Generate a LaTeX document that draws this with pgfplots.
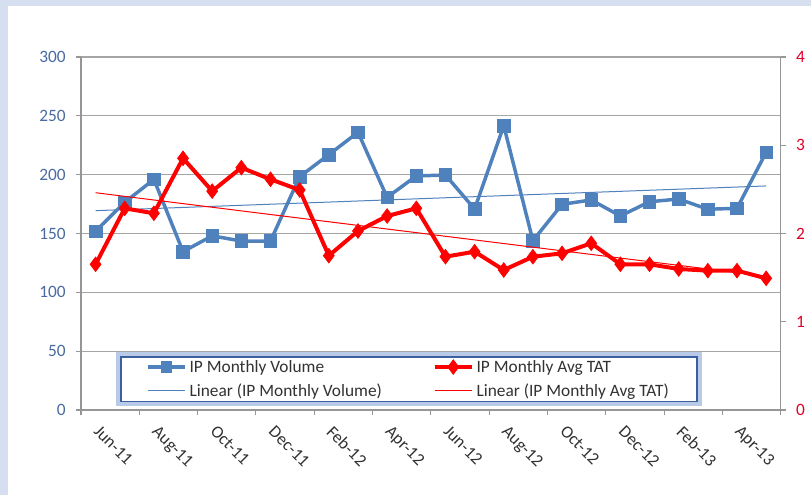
\documentclass[border=0pt]{standalone}
\usepackage{fontspec}
\setmainfont{Carlito}
\usepackage{pgfplots}
\pgfplotsset{compat=1.18}
\usepackage{pgfplotstable}
\usetikzlibrary{backgrounds}
\definecolor{xlblue}{RGB}{79,129,189}
\definecolor{xlred}{RGB}{255,0,0}
\definecolor{axgray}{RGB}{150,150,150}
\definecolor{gridgray}{RGB}{165,165,165}
\definecolor{lblue}{RGB}{74,107,160}
\definecolor{lred}{RGB}{225,0,40}
\definecolor{labgray}{RGB}{50,50,50}
\definecolor{bgblue}{RGB}{214,223,240}
\definecolor{legborder}{RGB}{60,95,160}
\definecolor{legglow}{RGB}{185,202,232}

\pgfplotstableread{
idx vol tat
0 152 1.651
1 176.5 2.285
2 196 2.229
3 134.6 2.852
4 148 2.48
5 143.6 2.746
6 143.6 2.614
7 198.3 2.493
8 217 1.749
9 236 2.028
10 180.7 2.198
11 198.9 2.285
12 199.7 1.737
13 170.8 1.794
14 241.6 1.586
15 143.9 1.737
16 174.8 1.775
17 178.5 1.889
18 164.9 1.651
19 177 1.651
20 179.3 1.598
21 170.6 1.579
22 171.4 1.579
23 219 1.492
}\data

\pgfplotstableread{
idx vol
0 169.4
23 190.4
}\voltrend

\pgfplotstableread{
idx tat
0 2.462
23 1.516
}\tattrend

\pgfplotsset{
  common/.style={
    scale only axis, width=524.8pt, height=264.75pt,
    xmin=-0.5, xmax=23.5,
    tick align=outside, major tick length=4pt,
    /pgf/number format/assume math mode=true,
    clip=false,
  }
}

\begin{document}
\begin{tikzpicture}[font=\fontsize{13}{15.5}\selectfont]
\begin{axis}[common, name=ax1,
  ymin=0, ymax=300, ytick={0,50,...,300},
  axis x line*=bottom, axis y line*=left,
  axis line style={draw=axgray, line width=0.8pt, -},
  ymajorgrids, grid style={draw=gridgray, line width=0.8pt},
  xtick={0,2,...,22},
  xticklabels={Jun-11,Aug-11,Oct-11,Dec-11,Feb-12,Apr-12,Jun-12,Aug-12,Oct-12,Dec-12,Feb-13,Apr-13},
  x tick label style={xshift=4pt, yshift=-2pt, rotate=-45, anchor=north west, text=labgray},
  xtick style={draw=none},
  extra x ticks={-0.5,1.5,...,23.5},
  extra x tick labels={},
  extra x tick style={grid=none, xtick style={draw=axgray, line width=0.8pt}, major tick length=4pt},
  ytick style={draw=axgray, line width=0.8pt},
  y tick label style={text=lblue, xshift=-4pt},
]
\addplot[draw=xlblue, line width=0.75pt] table[x=idx, y=vol] {\voltrend};
\addplot[draw=xlblue, line width=2.6pt, mark=square*, mark size=4.7pt,
  mark options={fill=xlblue, draw=xlblue, line width=0.5pt}] table[x=idx, y=vol] {\data};
\end{axis}
\begin{axis}[common,
  ymin=0, ymax=4, ytick={0,1,...,4},
  axis x line=none, axis y line*=right,
  axis line style={draw=axgray, line width=0.8pt, -},
  ytick style={draw=axgray, line width=0.8pt},
  y tick label style={text=lred, xshift=4pt},
  xtick=\empty,
  legend columns=2,
  legend cell align=left,
  legend image code/.code={\draw[mark repeat=2,mark phase=2] plot coordinates {(0pt,0pt)(14pt,0pt)(28pt,0pt)};},
  legend style={at={(0.0557,0.022)}, anchor=south west, name=leg,
    draw=legborder, line width=1.2pt, fill=white,
    inner xsep=19pt, inner ysep=0.5pt, row sep=3pt,
    nodes={inner sep=2pt, text=labgray},
    /tikz/column 2/.style={column sep=36pt},
  },
]
\addlegendimage{draw=xlblue, line width=2.6pt, mark=square*, mark size=3pt, mark options={fill=xlblue, draw=xlblue}}
\addlegendentry{IP Monthly Volume}
\addplot[draw=xlred, line width=0.75pt, forget plot] table[x=idx, y=tat] {\tattrend};
\addplot[draw=xlred, line width=3pt, mark=diamond*, mark size=5.5pt,
  mark options={fill=xlred, draw=xlred, line width=0.5pt}] table[x=idx, y=tat] {\data};
\addlegendentry{IP Monthly Avg TAT}
\addlegendimage{draw=xlblue, line width=0.75pt}
\addlegendentry{Linear (IP Monthly Volume)}
\addlegendimage{draw=xlred, line width=0.75pt}
\addlegendentry{Linear (IP Monthly Avg TAT)}
\end{axis}
\begin{pgfonlayer}{background}
\begin{scope}[shift={(ax1.south west)}]
\fill[bgblue] (-60.75pt,-63.75pt) rectangle (547.5pt,307.5pt);
\fill[white] (-54.75pt,-63.75pt) rectangle (547.5pt,303pt);
\end{scope}
\draw[legglow, line width=6pt] (leg.south west) rectangle (leg.north east);
\end{pgfonlayer}
\pgfresetboundingbox
\path[use as bounding box, shift={(ax1.south west)}] (-60.75pt,-63.75pt) rectangle (547.5pt,307.5pt);
\end{tikzpicture}
\end{document}
